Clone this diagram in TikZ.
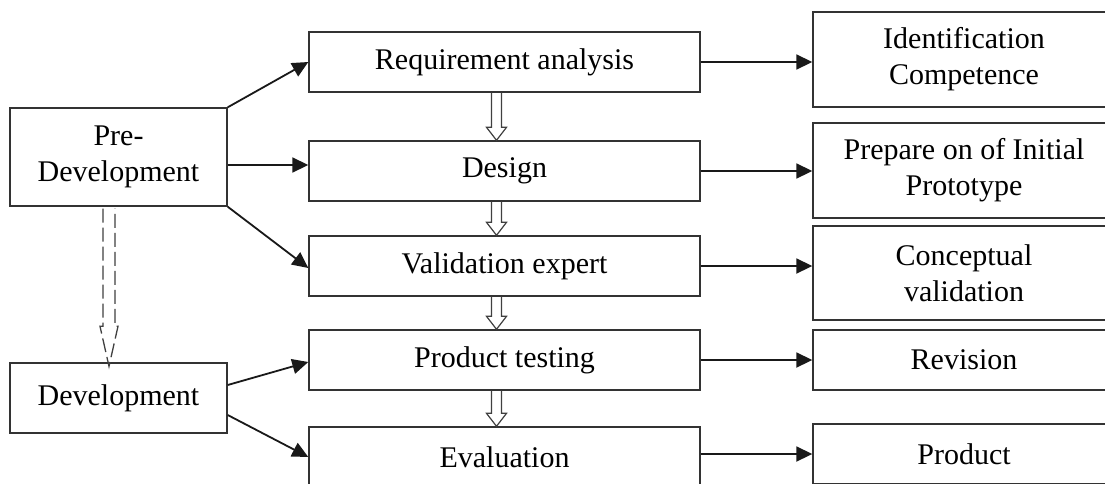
\documentclass[tikz,border=0pt]{standalone}
\usepackage{fontspec}
\setmainfont{Liberation Serif}
\usetikzlibrary{arrows.meta,calc}
\newcommand\hollowdown[3]{%
  \draw[hollowline] ($(#1.south)+(#3-5,0)$) -- ($(#2.north)+(#3-5,-13)$) -- ($(#2.north)+(#3-10,-13)$) -- ($(#2.north)+(#3,0)$) -- ($(#2.north)+(#3+10,-13)$) -- ($(#2.north)+(#3+5,-13)$) -- ($(#1.south)+(#3+5,0)$);}
\begin{document}
\begin{tikzpicture}[x=1pt,y=-1pt,
  cell/.style={draw=black!80, line width=1.4pt, inner sep=0pt, align=center,
    font=\fontsize{30}{36}\selectfont},
  leftbox/.style={cell, minimum width=217pt},
  midbox/.style={cell, minimum width=391pt, minimum height=60pt},
  rightbox/.style={cell, minimum width=302pt},
  conn/.style={draw=black!90, line width=1.8pt, -{Triangle[length=16pt,width=15pt]}},
  hollowline/.style={draw=black!75, line width=1.2pt, line join=miter},
  dashline/.style={hollowline, line width=1.3pt, dash pattern=on 14pt off 5pt}]
\clip (0,0) rectangle (1105,483);
\fill[white] (0,0) rectangle (1105,483);
% left
\node[leftbox, minimum height=98pt] (pre) at (118.5,157) {Pre-\\Development};
\node[leftbox, minimum height=70pt] (dev) at (118.5,398) {Development};
% middle
\node[midbox] (req) at (504.5,62) {Requirement analysis};
\node[midbox] (des) at (504.5,171) {Design};
\node[midbox] (val) at (504.5,266) {Validation expert};
\node[midbox] (pt) at (504.5,360) {Product testing};
\node[midbox] (ev) at (504.5,457) {Evaluation};
% right
\node[rightbox, minimum height=95pt] (idc) at (964,59.5) {Identification\\Competence};
\node[rightbox, minimum height=95pt] (prep) at (964,170.5) {Prepare on of Initial\\Prototype};
\node[rightbox, minimum height=94pt] (conc) at (964,273) {Conceptual\\validation};
\node[rightbox, minimum height=60pt] (rev) at (964,360) {Revision};
\node[rightbox, minimum height=60pt] (prod) at (964,454) {Product};
% left connectors
\coordinate (p2) at ($(pre.east)+(0,8)$);
\draw[conn] (pre.north east) -- (req.west);
\draw[conn] (p2) -- (p2 -| des.west);
\draw[conn] (pre.south east) -- ($(val.west)+(0,2)$);
\draw[conn] ($(dev.east)+(0,-13)$) -- ($(pt.west)+(0,2)$);
\draw[conn] ($(dev.east)+(0,17)$) -- (ev.west);
% right connectors
\coordinate (p5) at ($(ev.east)+(0,-3)$);
\draw[conn] (req.east) -- (req.east -| idc.west);
\draw[conn] (des.east) -- (des.east -| prep.west);
\draw[conn] (val.east) -- (val.east -| conc.west);
\draw[conn] (pt.east) -- (pt.east -| rev.west);
\draw[conn] (p5) -- (p5 -| prod.west);
% hollow arrows
\hollowdown{req}{des}{-8}
\hollowdown{des}{val}{-8}
\hollowdown{val}{pt}{-8}
\hollowdown{pt}{ev}{-8}
% dashed hollow arrow
\draw[dashline] ($(pre.south)+(-15.5,2)$) -- ($(dev.north)+(-15.5,-36)$) -- ($(dev.north)+(-18.5,-36)$) -- ($(dev.north)+(-9.5,4)$) -- ($(dev.north)+(-0.5,-36)$) -- ($(dev.north)+(-3.5,-36)$) -- ($(pre.south)+(-3.5,2)$);
\end{tikzpicture}
\end{document}
